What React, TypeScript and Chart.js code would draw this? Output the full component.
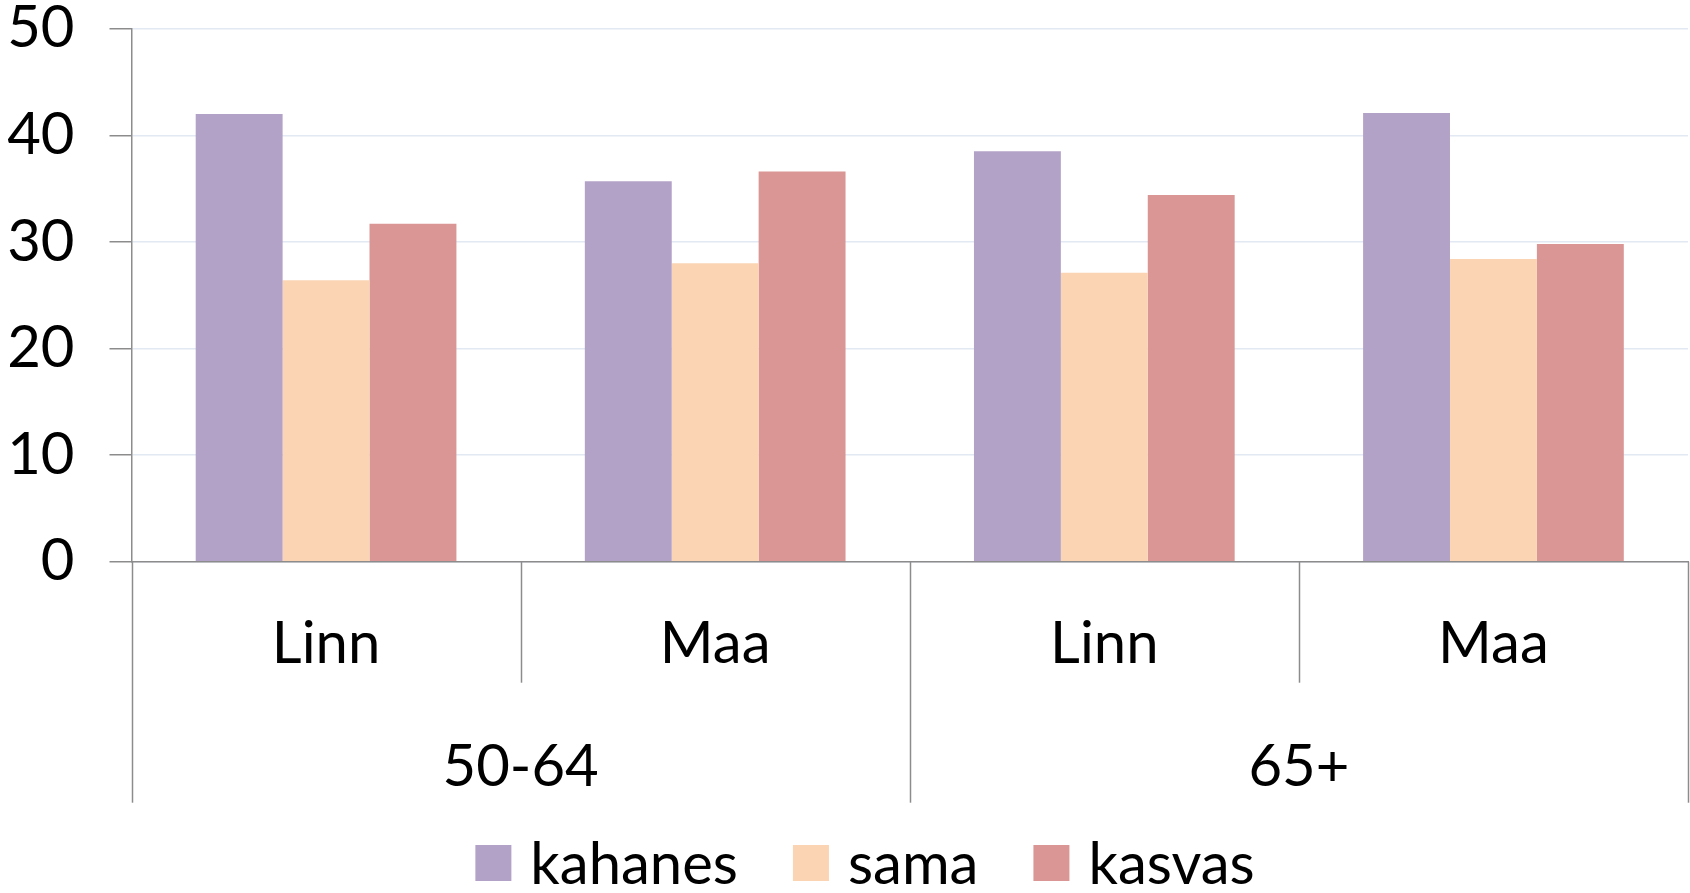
import React, { useEffect, useRef } from 'react';
import { Chart, registerables } from 'chart.js';

Chart.register(...registerables);

const categories = ['Linn', 'Maa', 'Linn', 'Maa'];
const groups = ['50-64', '65+'];
const seriesNames = ['kahanes', 'sama', 'kasvas'];
const kahanes = [42.0, 35.7, 38.5, 42.1];
const sama = [26.4, 28.0, 27.1, 28.4];
const kasvas = [31.7, 36.6, 34.4, 29.8];
const yTickValues = [0, 10, 20, 30, 40, 50];
const seriesColors = ['#b3a2c7', '#fbd4b4', '#d99694'];

const FONT = 'Lato, "Open Sans", sans-serif';
const AXIS_GRAY = '#8c8c8c';
const FONT_SIZE = 58;

const groupAxisPlugin = {
  id: 'groupAxis',
  afterDraw(chart: any) {
    const { ctx, chartArea, scales } = chart;
    const x = scales.x;
    const n = categories.length;
    const per = n / groups.length;
    const base = chartArea.bottom;
    ctx.save();
    ctx.strokeStyle = AXIS_GRAY;
    ctx.lineWidth = 1.5;
    for (let i = 0; i <= n; i++) {
      const px = Math.round(x.getPixelForValue(i - 0.5)) + 0.5;
      const outer = i % per === 0;
      ctx.beginPath();
      ctx.moveTo(px, base);
      ctx.lineTo(px, base + (outer ? 241 : 121));
      ctx.stroke();
    }
    ctx.fillStyle = '#000';
    ctx.font = `${FONT_SIZE}px ${FONT}`;
    ctx.textAlign = 'center';
    ctx.textBaseline = 'middle';
    groups.forEach((g, gi) => {
      const cx = x.getPixelForValue(gi * per + (per - 1) / 2);
      ctx.fillText(g, cx, base + 206);
    });

    // legend
    const boxSize = 36;
    const boxGap = 19;
    const itemGap = 55;
    ctx.font = `${FONT_SIZE}px ${FONT}`;
    const widths = seriesNames.map((s) => ctx.measureText(s).width);
    const total =
      widths.reduce((a, w) => a + boxSize + boxGap + w, 0) + itemGap * (seriesNames.length - 1);
    let lx = 865 - total / 2;
    const ly = 863;
    ctx.textAlign = 'left';
    seriesNames.forEach((s, i) => {
      ctx.fillStyle = seriesColors[i];
      ctx.fillRect(lx, ly - boxSize / 2, boxSize, boxSize);
      ctx.fillStyle = '#000';
      ctx.fillText(s, lx + boxSize + boxGap, ly + 2);
      lx += boxSize + boxGap + widths[i] + itemGap;
    });
    ctx.restore();
  },
};

export default function App() {
  const ref = useRef<HTMLCanvasElement | null>(null);
  useEffect(() => {
    if (!ref.current) return;
    const datasets = [kahanes, sama, kasvas].map((d, i) => ({
      label: seriesNames[i],
      data: d,
      backgroundColor: seriesColors[i],
      borderWidth: 0,
      barPercentage: 1,
      categoryPercentage: 0.67,
    }));
    const chart = new Chart(ref.current, {
      type: 'bar',
      data: { labels: categories, datasets },
      plugins: [groupAxisPlugin],
      options: {
        animation: false,
        responsive: false,
        maintainAspectRatio: false,
        layout: { padding: { top: 28.7, right: 2, left: 0, bottom: 79.3 } },
        plugins: {
          tooltip: { enabled: false },
          legend: { display: false },
        },
        scales: {
          x: {
            grid: { display: false, drawTicks: false },
            border: { color: AXIS_GRAY, width: 1.5 },
            ticks: {
              color: '#000',
              font: { family: FONT, size: FONT_SIZE },
              padding: 48,
              maxRotation: 0,
            },
            afterFit: (s: any) => {
              s.height = 252;
              s.paddingLeft = 0;
              s.paddingRight = 0;
            },
          },
          y: {
            min: 0,
            max: 50,
            afterBuildTicks: (s: any) => {
              s.ticks = yTickValues.map((v) => ({ value: v }));
            },
            grid: {
              color: '#e2e9f3',
              lineWidth: 1.5,
              tickColor: AXIS_GRAY,
              tickLength: 22,
            },
            border: { color: AXIS_GRAY, width: 1.5 },
            ticks: {
              color: '#000',
              font: { family: FONT, size: FONT_SIZE },
              padding: 35,
            },
            afterFit: (s: any) => {
              s.width = 131.5;
              s.paddingTop = 0;
              s.paddingBottom = 0;
            },
          },
        },
      },
    });
    return () => chart.destroy();
  }, []);
  return (
    <div style={{ position: 'fixed', left: 0, top: 0, width: 1690, height: 893, background: '#fff' }}>
      <canvas ref={ref} width={1690} height={893} style={{ display: 'block', width: 1690, height: 893 }} />
    </div>
  );
}
